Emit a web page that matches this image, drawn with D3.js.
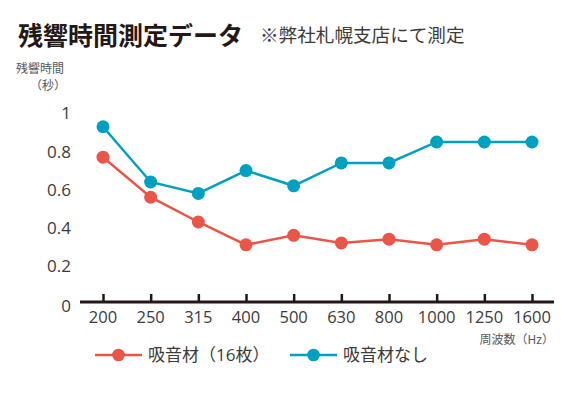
<!DOCTYPE html>
<html lang="ja">
<head>
<meta charset="utf-8">
<style>
  body { margin: 0; background: #fff; }
  svg { display: block; }
  text { font-family: "Open Sans", "Noto Sans CJK JP", sans-serif; fill: #3e3a39; }
  .jp { font-family: "Noto Sans CJK JP", sans-serif; }
</style>
</head>
<body>
<svg width="586" height="397"></svg>
<script src="https://cdn.jsdelivr.net/npm/d3@7/dist/d3.min.js"></script>
<script>
// frequencies (Hz)
var freqs = ["200", "250", "315", "400", "500", "630", "800", "1000", "1250", "1600"];
// reverberation time (s)
var withAbsorber = [0.76, 0.55, 0.42, 0.30, 0.35, 0.31, 0.33, 0.30, 0.33, 0.30];
var noAbsorber = [0.92, 0.63, 0.57, 0.69, 0.61, 0.73, 0.73, 0.84, 0.84, 0.84];
var yTicks = [0, 0.2, 0.4, 0.6, 0.8, 1];
var seriesNames = ["吸音材（16枚）", "吸音材なし"];
var seriesColors = ["#ea5549", "#00a0c1"];

var svg = d3.select("svg");

var x = d3.scalePoint().domain(freqs).range([103, 532]);
var y = d3.scaleLinear().domain([0, 1]).range([302, 111.5]);

// titles
svg.append("text").attr("class", "jp")
    .attr("x", 18).attr("y", 45)
    .style("font-size", "25px").style("font-weight", 700)
    .style("fill", "#231815")
    .text("残響時間測定データ");
svg.append("text").attr("class", "jp")
    .attr("x", 260).attr("y", 42)
    .style("font-size", "18.6px")
    .style("fill", "#3e3a39")
    .text("※弊社札幌支店にて測定");

// y axis title
svg.append("text").attr("class", "jp")
    .attr("x", 64).attr("y", 73)
    .attr("text-anchor", "end")
    .style("font-size", "12px").style("fill", "#595757")
    .text("残響時間");
svg.append("text").attr("class", "jp")
    .attr("x", 66).attr("y", 90)
    .attr("text-anchor", "end")
    .style("font-size", "12px").style("fill", "#595757")
    .text("（秒）");

// y labels (no axis line)
svg.selectAll(".ylab")
    .data(yTicks)
    .enter()
    .append("text")
    .attr("class", "ylab")
    .attr("x", 71)
    .attr("y", function (d) { return y(d) + (d === 0 ? 4.5 : 2); })
    .attr("dy", "0.35em")
    .attr("text-anchor", "end")
    .style("font-size", "17px")
    .text(function (d) { return d3.format("~g")(d); });

// x axis
var xAxis = d3.axisTop(x).tickSize(8).tickFormat("");
var gx = svg.append("g")
    .attr("transform", "translate(0," + y(0) + ")")
    .call(xAxis);
gx.select(".domain")
    .attr("d", "M80,0H554")
    .attr("stroke", "#231815")
    .attr("stroke-width", 3);
gx.selectAll(".tick line")
    .attr("stroke", "#231815")
    .attr("stroke-width", 2.5);

svg.selectAll(".xlab")
    .data(freqs)
    .enter()
    .append("text")
    .attr("class", "xlab")
    .attr("x", function (d) { return x(d); })
    .attr("y", 323)
    .attr("text-anchor", "middle")
    .style("font-size", "16.5px")
    .text(function (d) { return d; });

svg.append("text").attr("class", "jp")
    .attr("x", 554).attr("y", 344)
    .attr("text-anchor", "end")
    .style("font-size", "12px").style("fill", "#595757")
    .text("周波数（Hz）");

// series
var series = [withAbsorber, noAbsorber];
var line = d3.line()
    .x(function (d, i) { return x(freqs[i]); })
    .y(function (d) { return y(d); });

series.forEach(function (vals, s) {
    svg.append("path")
        .datum(vals)
        .attr("d", line)
        .attr("fill", "none")
        .attr("stroke", seriesColors[s])
        .attr("stroke-width", 2.5);
    svg.selectAll(".pt" + s)
        .data(vals)
        .enter()
        .append("circle")
        .attr("class", "pt" + s)
        .attr("cx", function (d, i) { return x(freqs[i]); })
        .attr("cy", function (d) { return y(d); })
        .attr("r", 6.5)
        .attr("fill", seriesColors[s]);
});

// legend
var legendX = [95, 290];
var legend = svg.selectAll(".legend")
    .data(seriesNames)
    .enter()
    .append("g")
    .attr("class", "legend")
    .attr("transform", function (d, i) { return "translate(" + legendX[i] + ",355)"; });
legend.append("line")
    .attr("x1", 0).attr("x2", 47)
    .attr("stroke", function (d, i) { return seriesColors[i]; })
    .attr("stroke-width", 2.5);
legend.append("circle")
    .attr("cx", 23.5).attr("r", 6.3)
    .attr("fill", function (d, i) { return seriesColors[i]; });
legend.append("text")
    .attr("x", 53).attr("y", 6)
    .style("font-size", "17px")
    .text(function (d) { return d; });
</script>
</body>
</html>
